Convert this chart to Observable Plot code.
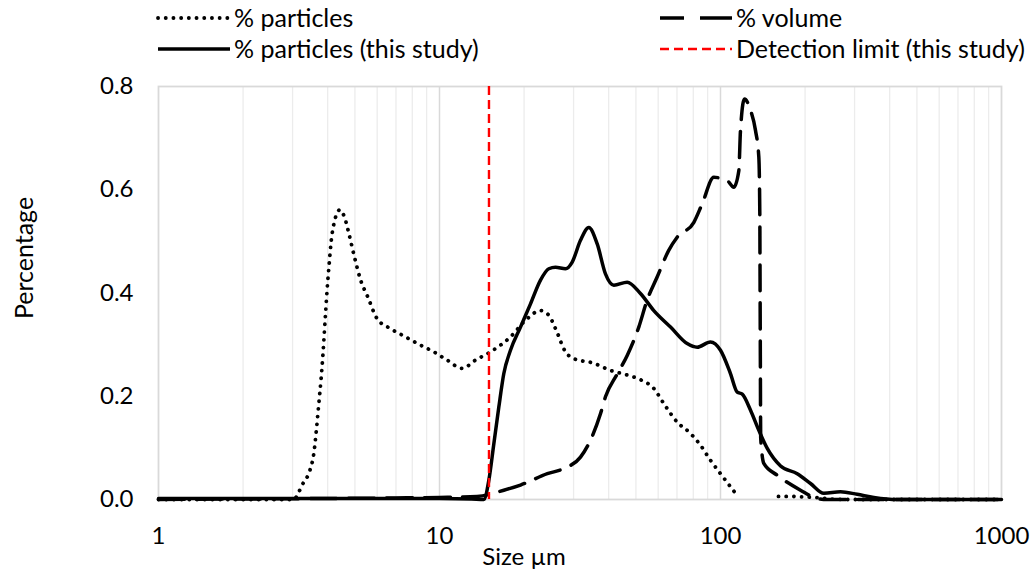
<!DOCTYPE html>
<html>
<head>
<meta charset="utf-8">
<script src="https://cdn.jsdelivr.net/npm/d3@7"></script>
<script src="https://cdn.jsdelivr.net/npm/@observablehq/plot@0.6"></script>
<style>
  html, body { margin: 0; padding: 0; background: #fff; }
  #chart { width: 1030px; font-family: Lato, "Liberation Sans", sans-serif; }
</style>
</head>
<body>
<div id="chart"></div>
<script>
// ---- Data ----
// % particles (dotted)
const sizeParticles = [1, 2, 3.03, 3.16, 3.26, 3.46, 3.57, 3.65, 3.72, 3.79, 3.85, 3.93, 3.98, 4.05, 4.12, 4.21, 4.42, 4.59, 4.76, 4.98, 5.24, 5.56, 6.00, 6.69, 7.57, 8.56, 9.54, 10.65, 12.04, 13.43, 15.19, 17.89, 20.23, 22.88, 24.49, 25.87, 28.08, 30.06, 35.4, 40.6, 46.6, 51.9, 57.9, 62.8, 70.1, 78.2, 84.9, 92.1, 100, 113.1, 130, 160.8, 177.5, 192.6, 217.8, 246.3, 290, 400, 1000];
const pctParticles  = [0, 0, 0, 0.015, 0.030, 0.057, 0.089, 0.137, 0.186, 0.234, 0.283, 0.360, 0.405, 0.457, 0.502, 0.534, 0.561, 0.547, 0.515, 0.470, 0.425, 0.392, 0.350, 0.331, 0.315, 0.299, 0.286, 0.270, 0.254, 0.270, 0.286, 0.315, 0.347, 0.366, 0.357, 0.331, 0.286, 0.273, 0.264, 0.250, 0.241, 0.232, 0.215, 0.186, 0.150, 0.128, 0.105, 0.076, 0.050, 0.012, null, 0.006, 0.006, 0.005, 0.004, 0.001, 0, 0, 0];

// % volume (long dash)
const sizeVolume = [1, 2, 4, 7, 10, 13.6, 16.94, 19.42, 24.2, 27.7, 31.75, 34.46, 37.4, 38.96, 42.9, 46.56, 51.2, 54.8, 59.5, 65.5, 70.1, 80.4, 86.1, 94.7, 105.6, 111.5, 116.2, 117.8, 121.7, 127.9, 133.2, 136.9, 138.0, 138.3, 138.6, 139.0, 142.6, 159.2, 192.6, 220.9, 239.7, 300, 1000];
const pctVolume  = [0, 0.001, 0.002, 0.003, 0.004, 0.006, 0.018, 0.028, 0.050, 0.060, 0.082, 0.115, 0.166, 0.199, 0.243, 0.279, 0.334, 0.386, 0.431, 0.483, 0.508, 0.537, 0.573, 0.624, 0.618, 0.605, 0.637, 0.715, 0.776, 0.754, 0.715, 0.663, 0.554, 0.42, 0.28, 0.12, 0.070, 0.047, 0.018, 0.002, 0, 0, 0];

// % particles (this study) (solid)
const sizeStudy = [1, 3, 6, 10, 13, 14.38, 14.98, 15.61, 16.26, 16.94, 17.89, 19.42, 21.08, 22.88, 24.49, 25.87, 28.08, 29.67, 31.75, 33.99, 36.41, 38.96, 41.72, 46.56, 51.9, 57.9, 66.4, 76.1, 82.6, 92.1, 100, 108.5, 114.7, 119.5, 127.9, 136.9, 146.7, 163.6, 187.5, 209.1, 233.2, 267.3, 306.6, 351.3, 425.6, 600, 1000];
const pctStudy  = [0.002, 0.002, 0.002, 0.002, 0.001, 0, 0.037, 0.108, 0.179, 0.244, 0.289, 0.334, 0.379, 0.425, 0.447, 0.450, 0.447, 0.460, 0.502, 0.527, 0.495, 0.437, 0.415, 0.421, 0.399, 0.366, 0.334, 0.302, 0.295, 0.305, 0.289, 0.244, 0.208, 0.204, 0.173, 0.134, 0.099, 0.065, 0.050, 0.031, 0.012, 0.015, 0.010, 0.004, 0, 0, 0];

// Detection limit (this study)
const detectionLimit = [15];

// Axes
const xTicks = [1, 10, 100, 1000];
const xMinorGrid = [2, 3, 4, 5, 6, 7, 8, 9, 20, 30, 40, 50, 60, 70, 80, 90, 200, 300, 400, 500, 600, 700, 800, 900];
const xMajorGrid = [10, 100];
const yTicks = [0, 0.2, 0.4, 0.6, 0.8];

const seriesNames = ["% particles", "% volume", "% particles (this study)", "Detection limit (this study)"];

// ---- Tables ----
const toRows = (xs, ys) => xs.map((x, i) => ({size: x, pct: ys[i]}));
const particles = toRows(sizeParticles, pctParticles);
const volume = toRows(sizeVolume, pctVolume);
const study = toRows(sizeStudy, pctStudy);

const FONT = 24;
const LEGEND_FONT = 25;
const FAMILY = "Lato, 'Liberation Sans', sans-serif";
const root = document.getElementById("chart");

// ---- Legend (above the plot) ----
const legendH = 70;
const legend = d3.create("svg").attr("width", 1030).attr("height", legendH)
  .style("display", "block")
  .attr("font-family", FAMILY).attr("font-size", LEGEND_FONT);
const legendItems = [
  {name: seriesNames[0], x: 158, y: 18, stroke: "#000", width: 3.8, dash: "0.1,7.6", cap: "round"},
  {name: seriesNames[2], x: 158, y: 49, stroke: "#000", width: 3.5, dash: null, cap: "butt"},
  {name: seriesNames[1], x: 660, y: 18, stroke: "#000", width: 3.5, dash: "24,16,32", cap: "butt"},
  {name: seriesNames[3], x: 660, y: 49, stroke: "#ff0000", width: 2.4, dash: "9,5", cap: "butt"}
];
for (const it of legendItems) {
  legend.append("line").attr("x1", it.x).attr("x2", it.x + 72).attr("y1", it.y).attr("y2", it.y)
    .attr("stroke", it.stroke).attr("stroke-width", it.width)
    .attr("stroke-dasharray", it.dash).attr("stroke-linecap", it.cap);
  legend.append("text").attr("x", it.x + 76).attr("y", it.y).attr("dy", "0.35em")
    .attr("fill", "#000").text(it.name);
}
root.appendChild(legend.node());

// ---- Plot ----
const plot = Plot.plot({
  width: 1030,
  height: 503,
  marginLeft: 158,
  marginRight: 29,
  marginTop: 16,
  marginBottom: 74,
  style: {fontFamily: FAMILY, fontSize: FONT + "px", color: "#000", background: "#fff", display: "block"},
  x: {type: "log", domain: [1, 1000]},
  y: {domain: [0, 0.8]},
  marks: [
    Plot.ruleX(xMinorGrid, {stroke: "#ececec", strokeWidth: 1.3}),
    Plot.ruleX(xMajorGrid, {stroke: "#d9d9d9", strokeWidth: 1.5}),
    Plot.frame({stroke: "#d9d9d9", strokeWidth: 1.8}),
    Plot.axisX(xTicks, {tickSize: 0, tickPadding: 27, fontSize: FONT, tickFormat: d => String(d), label: null}),
    Plot.axisY(yTicks, {tickSize: 0, tickPadding: 25, fontSize: FONT, tickFormat: d => d.toFixed(1), label: null}),
    Plot.line(particles, {x: "size", y: "pct", curve: "monotone-x", stroke: "#000", strokeWidth: 3.8, strokeDasharray: "0.1,7.6", strokeLinecap: "round"}),
    Plot.line(volume, {x: "size", y: "pct", curve: "monotone-x", stroke: "#000", strokeWidth: 3.5, strokeDasharray: "26,12"}),
    Plot.line(study, {x: "size", y: "pct", curve: "monotone-x", stroke: "#000", strokeWidth: 3.5}),
    Plot.ruleX(detectionLimit, {stroke: "#ff0000", strokeWidth: 2.4, strokeDasharray: "9,5"}),
    Plot.text(["Percentage"], {frameAnchor: "left", textAnchor: "middle", dx: -134, dy: -35, rotate: -90, fontSize: LEGEND_FONT, fill: "#000"}),
    Plot.text(["Size µm"], {frameAnchor: "bottom", textAnchor: "middle", dx: -56, dy: 65, fontSize: FONT, fill: "#000"})
  ]
});
root.appendChild(plot);
</script>
</body>
</html>
